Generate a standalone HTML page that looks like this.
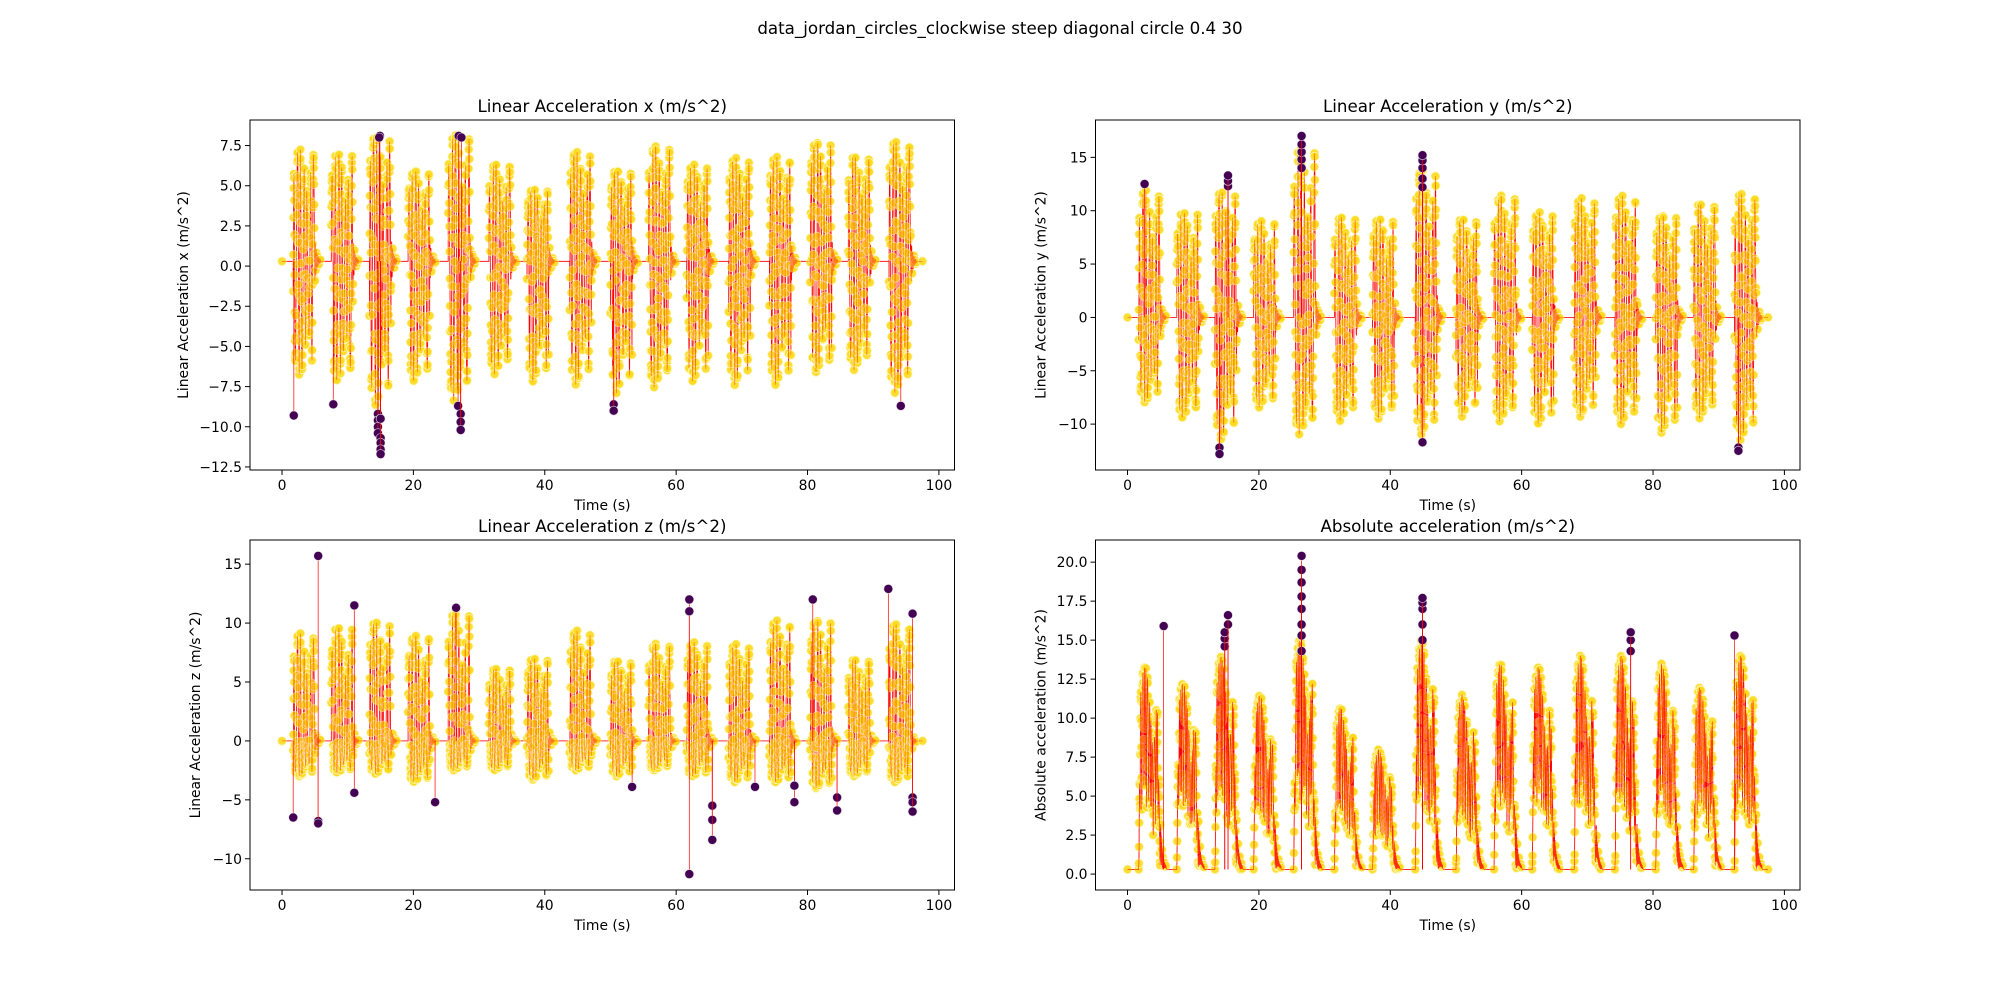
<!DOCTYPE html>
<html><head><meta charset="utf-8"><style>
body{margin:0;background:#fff;}
svg{display:block;font-family:"DejaVu Sans","Liberation Sans",sans-serif;}
</style></head><body>
<svg id="fig" width="2000" height="1000">
<rect width="2000" height="1000" fill="#fff"/>
<text x="1000" y="34" text-anchor="middle" font-size="16.7">data_jordan_circles_clockwise steep diagonal circle 0.4 30</text>
</svg>
<script>
const burstStarts=[1.7,7.5,13.3,19.2,25.3,31.5,37.3,43.8,50,55.8,61.6,68,74.2,80.4,86.2,92.4];
const xMaxA=[7.0,6.8,7.9,5.7,7.9,6.1,4.6,6.9,5.8,7.2,6.1,6.5,6.6,7.6,6.6,7.5];
const xMinA=[-7.1,-7.5,-9.0,-7.5,-8.7,-7.1,-7.5,-7.7,-8.2,-7.9,-7.5,-7.7,-7.7,-6.9,-6.8,-8.2];
const yMaxA=[12.0,10.0,12.0,9.2,16.0,9.5,9.5,14.0,9.5,11.5,10.0,11.3,11.6,9.8,10.8,11.7];
const yMinA=[-8.0,-9.5,-11.5,-8.5,-11.0,-9.8,-9.5,-11.0,-9.3,-9.8,-10.0,-9.3,-10.0,-10.8,-9.5,-11.5];
const zMaxA=[9.2,9.8,10.3,9.1,11.0,6.2,7.2,9.5,7.0,8.3,8.5,8.3,10.4,10.5,7.0,10.0];
const zMinA=[-3.0,-2.7,-2.8,-3.5,-2.5,-2.5,-3.3,-2.5,-3.0,-2.5,-3.0,-3.5,-3.5,-4.0,-3.0,-3.5];
const aMaxA=[13.3,12.3,14.0,11.5,15.0,10.7,8.0,15.0,11.5,13.5,13.3,14.0,14.0,13.5,12.0,14.0];
const aMinA=[0.3,0.3,0.3,0.3,0.3,0.3,0.3,0.3,0.3,0.3,0.3,0.3,0.3,0.3,0.3,0.3];
const xOutT=[1.8,7.8,14.6,14.6,14.6,14.6,15.0,15.0,15.0,15.0,15.0,14.9,26.8,27.2,27.2,27.2,50.5,50.5,94.2,14.8,26.9,27.3];
const xOutV=[-9.3,-8.6,-9.2,-9.6,-10.0,-10.4,-10.7,-11.0,-11.4,-11.7,-9.5,8.1,-8.7,-9.2,-9.7,-10.2,-8.6,-9.0,-8.7,8.0,8.1,8.0];
const yOutT=[2.6,14.0,14.0,15.3,15.3,15.3,26.5,26.5,26.5,26.5,26.5,44.9,44.9,44.9,44.9,44.9,44.9,93.0,93.0];
const yOutV=[12.5,-12.2,-12.8,12.3,12.8,13.3,14.0,14.8,15.5,16.2,17.0,12.2,13.0,14.0,14.7,15.2,-11.7,-12.2,-12.5];
const zOutT=[1.7,5.5,5.5,5.5,11.0,11.0,23.3,26.5,53.3,62.0,62.0,62.0,65.5,65.5,65.5,72.0,78.0,78.0,80.8,84.5,84.5,92.3,96.0,96.0,96.0,96.0];
const zOutV=[-6.5,15.7,-6.8,-7.0,11.5,-4.4,-5.2,11.3,-3.9,12.0,11.0,-11.3,-5.5,-6.7,-8.4,-3.9,-5.2,-3.8,12.0,-4.8,-5.9,12.9,10.8,-4.8,-5.2,-6.0];
const aOutT=[5.5,14.8,14.8,14.8,15.3,15.3,26.5,26.5,26.5,26.5,26.5,26.5,26.5,26.5,44.9,44.9,44.9,44.9,44.9,76.6,76.6,76.6,92.4];
const aOutV=[15.9,14.6,15.1,15.5,16.0,16.6,14.3,15.3,16.0,17.0,17.8,18.7,19.5,20.4,15.0,16.0,17.0,17.4,17.7,14.3,15.0,15.5,15.3];
const xTicks=[0,20,40,60,80,100];
const panels=[
 {name:'accel-x',title:'Linear Acceleration x (m/s^2)',ylabel:'Linear Acceleration x (m/s^2)',x:250,y:120,ymin:-12.69,ymax:9.09,ticks:[-12.5,-10,-7.5,-5,-2.5,0,2.5,5,7.5],dec:1,base:0.3,maxA:xMaxA,minA:xMinA,oT:xOutT,oV:xOutV,abs:false},
 {name:'accel-y',title:'Linear Acceleration y (m/s^2)',ylabel:'Linear Acceleration y (m/s^2)',x:1095.5,y:120,ymin:-14.3,ymax:18.5,ticks:[-10,-5,0,5,10,15],dec:0,base:0,maxA:yMaxA,minA:yMinA,oT:yOutT,oV:yOutV,abs:false},
 {name:'accel-z',title:'Linear Acceleration z (m/s^2)',ylabel:'Linear Acceleration z (m/s^2)',x:250,y:540,ymin:-12.65,ymax:17.05,ticks:[-10,-5,0,5,10,15],dec:0,base:0,maxA:zMaxA,minA:zMinA,oT:zOutT,oV:zOutV,abs:false},
 {name:'accel-abs',title:'Absolute acceleration (m/s^2)',ylabel:'Absolute acceleration (m/s^2)',x:1095.5,y:540,ymin:-1.02,ymax:21.42,ticks:[0,2.5,5,7.5,10,12.5,15,17.5,20],dec:1,base:0.3,maxA:aMaxA,minA:aMinA,oT:aOutT,oV:aOutV,abs:true}
];
const NS='http://www.w3.org/2000/svg';
const fig=document.getElementById('fig');
const W=704.5,H=350,XMIN=-4.875,XMAX=102.375;
function mk(tag,attrs,parent){const e=document.createElementNS(NS,tag);for(const k in attrs)e.setAttribute(k,attrs[k]);parent.appendChild(e);return e;}
function fmt(v,d){const s=Math.abs(v).toFixed(d);return (v<0?'\u2212':'')+s;}
panels.forEach(p=>{
 const sx=t=>p.x+(t-XMIN)/(XMAX-XMIN)*W;
 const sy=v=>p.y+(p.ymax-v)/(p.ymax-p.ymin)*H;
 const g=mk('g',{},fig);
 
 
 const pts=[],dots=[];
 pts.push([0,p.base]);
 const DUR=3.3;
 p.maxA.forEach((mx,i)=>{
  const s=burstStarts[i],mn=p.minA[i];
  pts.push([s,p.base]);
  let k=0;
  for(let tt=s;tt<s+DUR;tt+=0.028){
   const o=Math.sin(2*Math.PI*2.0*(tt-s)+Math.sin(tt*7)*0.6);
   const env=0.55+0.45*Math.abs(Math.sin(Math.PI*(tt-s)/DUR*1.3+0.4));
   let v;
   if(p.abs){v=mn+(mx-mn)*env*(0.3+0.7*Math.abs(o));if((tt-s)<0.25||(tt-s)>DUR-0.5)v=mn+(v-mn)*((tt-s)<0.25?(tt-s)/0.25:(s+DUR-tt)/0.5);}
   else v=p.base+(o>0?o*mx:-o*mn)*env;
   pts.push([tt,v]);dots.push([tt,v]);k++;
  }
  k=0;
  for(let tt=s+DUR;tt<s+DUR+0.9;tt+=0.02){
   const d=Math.exp(-(tt-s-DUR)*3);
   const v=p.abs?p.base+Math.abs(Math.sin(tt*40))*mx*0.25*d:p.base+Math.sin(tt*40)*(mx-mn)*0.1*d;
   pts.push([tt,v]);
   if(k%6===0)dots.push([tt,v]);
   k++;
  }
  pts.push([s+DUR+1,p.base]);
 });
 pts.push([97.5,p.base]);dots.push([97.5,p.base]);dots.push([0,p.base]);
 const line=mk('polyline',{points:pts.map(q=>sx(q[0]).toFixed(1)+','+sy(q[1]).toFixed(1)).join(' '),fill:'none',stroke:'#ff0000','stroke-width':0.8},g);
 
 
 const dg=mk('g',{},g);
 
 
 dots.forEach(d=>{
  const c=mk('circle',{cx:sx(d[0]).toFixed(1),cy:sy(d[1]).toFixed(1),r:4.3,fill:'#fcd91c',stroke:'#fff4b0','stroke-width':0.8,'fill-opacity':0.9},dg);
  
  
 });
 const line2=mk('polyline',{points:pts.map(q=>sx(q[0]).toFixed(1)+','+sy(q[1]).toFixed(1)).join(' '),fill:'none',stroke:'#ff0000','stroke-width':0.6,'stroke-opacity':p.abs?0.8:0.45},g);
 
 
 const og=mk('g',{},g);
 
 
 p.oT.forEach((tt,i)=>{
  mk('line',{x1:sx(tt),x2:sx(tt),y1:sy(p.base),y2:sy(p.oV[i]),stroke:'#ff0000','stroke-width':0.7},og);
  const c=mk('circle',{cx:sx(tt).toFixed(1),cy:sy(p.oV[i]).toFixed(1),r:4.5,fill:'#440154',stroke:'#ddd','stroke-width':0.6},og);
  
  
 });
 const fr=mk('rect',{x:p.x,y:p.y,width:W,height:H,fill:'none',stroke:'#000','stroke-width':1},g);
 
 
 xTicks.forEach(v=>{
  const X=sx(v);
  mk('line',{x1:X,x2:X,y1:p.y+H,y2:p.y+H+5,stroke:'#000','stroke-width':1},g);
  const tx=mk('text',{x:X,y:p.y+H+20,'text-anchor':'middle','font-size':13.9},g);
  tx.textContent=String(v);
  
  
 });
 p.ticks.forEach(v=>{
  const Y=sy(v);
  mk('line',{x1:p.x-5,x2:p.x,y1:Y,y2:Y,stroke:'#000','stroke-width':1},g);
  const tx=mk('text',{x:p.x-8,y:Y+5,'text-anchor':'end','font-size':13.9},g);
  tx.textContent=fmt(v,p.dec);
  
  
 });
 const ti=mk('text',{x:p.x+W/2,y:p.y-8,'text-anchor':'middle','font-size':16.7},g);
 ti.textContent=p.title;
 
 
 const xl=mk('text',{x:p.x+W/2,y:p.y+H+40,'text-anchor':'middle','font-size':13.9},g);
 xl.textContent='Time (s)';
 
 
 const lx=p.x-(p.dec===1&&p.ticks[0]<0?62:50);
 const yl=mk('text',{x:lx,y:p.y+H/2,'text-anchor':'middle','font-size':13.9,transform:`rotate(-90 ${lx} ${p.y+H/2})`},g);
 yl.textContent=p.ylabel;
 
 
});
</script>
</body></html>
